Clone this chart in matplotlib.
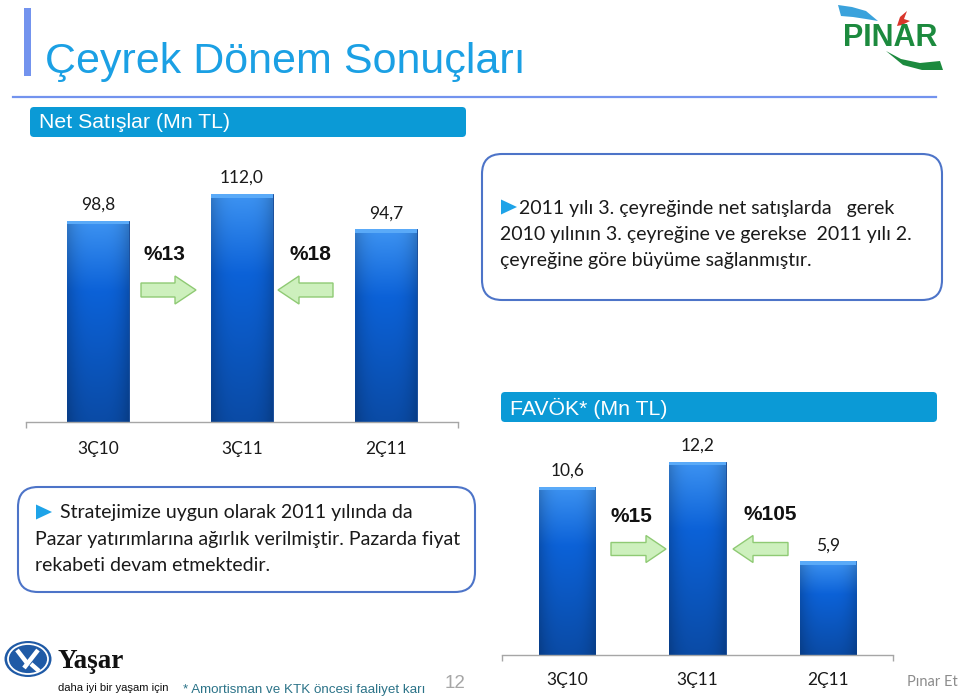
import matplotlib
matplotlib.use("Agg")
import matplotlib.pyplot as plt
import numpy as np
from matplotlib.patches import FancyBboxPatch, Polygon, Rectangle, Ellipse
from matplotlib.colors import to_rgb

# ---- data -------------------------------------------------------------
quarters = ["3Ç10", "3Ç11", "2Ç11"]
net_sales = [98.8, 112.0, 94.7]
favok = [10.6, 12.2, 5.9]
sales_growth = ["%13", "%18"]
favok_growth = ["%15", "%105"]
value_fmt = lambda v: f"{v:.1f}".replace(".", ",")

title = "Çeyrek Dönem Sonuçları"
sales_header = "Net Satışlar (Mn TL)"
favok_header = "FAVÖK* (Mn TL)"
note_sales = ["2011 yılı 3. çeyreğinde net satışlarda   gerek",
              "2010 yılının 3. çeyreğine ve gerekse  2011 yılı 2.",
              "çeyreğine göre büyüme sağlanmıştır."]
note_favok = ["Stratejimize uygun olarak 2011 yılında da",
              "Pazar yatırımlarına ağırlık verilmiştir. Pazarda fiyat",
              "rekabeti devam etmektedir."]
footnote = "* Amortisman ve KTK öncesi faaliyet karı"
page_no = "12"

W, H = 960, 700
BODY = ["Lato", "DejaVu Sans"]
ARIAL = ["Liberation Sans", "DejaVu Sans"]
HEAD_BLUE = "#0b9ad6"
BOX_EDGE = "#4d74c8"

fig = plt.figure(figsize=(W / 100, H / 100), dpi=100)
fig.patch.set_facecolor("white")

# full-page canvas in pixel units for the slide decorations
cv = fig.add_axes([0, 0, 1, 1])
cv.set_xlim(0, W)
cv.set_ylim(H, 0)
cv.axis("off")

# title + rules
cv.add_patch(Rectangle((24, 8), 7, 68, color="#7393ee", lw=0))
cv.plot([13, 936], [97, 97], color="#7393ee", lw=1.6)
cv.text(45, 73, title, fontsize=31, color="#1ba0e4", family=ARIAL, va="baseline")

# section headers
for (x0, y0, w, h, txt) in [(30, 107, 436, 30, sales_header),
                            (501, 392, 436, 30, favok_header)]:
    cv.add_patch(FancyBboxPatch((x0, y0), w, h, boxstyle="round,pad=0,rounding_size=4",
                                fc=HEAD_BLUE, ec="none"))
    cv.text(x0 + 9, y0 + h / 2 + 1, txt, fontsize=15.3, color="white", family=ARIAL,
            va="center")

# comment boxes
def note_box(x0, y0, w, h, lines, bullet_xy, first_x, other_x, baselines):
    cv.add_patch(FancyBboxPatch((x0, y0), w, h, boxstyle="round,pad=0,rounding_size=20",
                                fc="white", ec=BOX_EDGE, lw=1.5))
    cv.add_patch(Polygon([(bullet_xy[0], bullet_xy[1] - 7.5), (bullet_xy[0] + 16, bullet_xy[1]),
                          (bullet_xy[0], bullet_xy[1] + 7.5)], closed=True,
                         fc="#1ea3e8", ec="none"))
    for i, (ln, yb) in enumerate(zip(lines, baselines)):
        cv.text(first_x if i == 0 else other_x, yb, ln, fontsize=14, color="#1a1a1a",
                family=BODY, va="baseline")

note_box(482, 154, 460, 146, note_sales, (501, 207), 519, 500, [214, 240, 266])
note_box(18, 487, 457, 105, note_favok, (36, 512), 60, 35, [518, 544.5, 571])

# ---- bar panels -------------------------------------------------------
def bar_colors():
    top = np.array(to_rgb("#3d93f2"))
    mid = np.array(to_rgb("#0c62d8"))
    bot = np.array(to_rgb("#0a4ba6"))
    t = np.linspace(0, 1, 120)[:, None]
    col = np.where(t < 0.35, top + (mid - top) * (t / 0.35),
                   mid + (bot - mid) * ((t - 0.35) / 0.65))
    img = np.repeat(col[:, None, :], 30, axis=1)
    xs = np.linspace(-1, 1, 30)
    shade = 1 - 0.18 * np.abs(xs) ** 3
    return np.clip(img * shade[None, :, None], 0, 1)

GRAD = bar_colors()

def bar_panel(left, right, base, top, px_unit, values, pad_pt):
    ax = fig.add_axes([left / W, (H - base) / H, (right - left) / W, (base - top) / H])
    ax.patch.set_alpha(0)
    n = len(values)
    ymax = (base - top) / px_unit
    bars = ax.bar(range(n), values, width=0.43, color="#0c5fd2", ec="#0a3f8e", lw=0.6,
                  zorder=2)
    for b in bars:
        x0, w, h = b.get_x(), b.get_width(), b.get_height()
        im = ax.imshow(GRAD, extent=(x0, x0 + w, 0, h), aspect="auto", zorder=2.5,
                       interpolation="bilinear")
        im.set_clip_path(b)
        ax.add_patch(Rectangle((x0, h - 3.5 / px_unit), w, 3.5 / px_unit,
                               color="#5aaaf8", lw=0, zorder=3))
        ax.annotate(value_fmt(h), (x0 + w / 2, h), xytext=(0, 11.5),
                    textcoords="offset points", ha="center", va="center",
                    fontsize=12.5, family=BODY, color="#1a1a1a")
    ax.set_xlim(-0.5, n - 0.5)
    ax.set_ylim(0, ymax)
    for s in ("left", "right", "top"):
        ax.spines[s].set_visible(False)
    ax.spines["bottom"].set_color("#a6a6a6")
    ax.spines["bottom"].set_linewidth(1.0)
    ax.set_yticks([])
    ax.set_xticks(range(n))
    ax.set_xticklabels(quarters, fontsize=12.5, family=BODY, color="#1a1a1a")
    ax.tick_params(axis="x", which="major", length=0, pad=pad_pt)
    ax.set_xticks([-0.5, n - 0.5], minor=True)
    ax.tick_params(axis="x", which="minor", length=4, color="#a6a6a6", width=1.0)
    return ax

bar_panel(26, 458, 422, 160, 2.035, net_sales, 14)
bar_panel(502, 893, 655, 400, 15.85, favok, 12)

# growth arrows + percentages
def arrow(x_tail, x_tip, cy, shaft=14, head=28, head_len=21):
    d = 1 if x_tip > x_tail else -1
    xb = x_tip - d * head_len
    pts = [(x_tail, cy - shaft / 2), (xb, cy - shaft / 2), (xb, cy - head / 2),
           (x_tip, cy), (xb, cy + head / 2), (xb, cy + shaft / 2), (x_tail, cy + shaft / 2)]
    cv.add_patch(Polygon(pts, closed=True, fc="#cdf0bd", ec="#8fca74", lw=1.0, zorder=5))

arrow(141, 196, 290)
arrow(333, 278, 290)
arrow(611, 666, 549, shaft=13, head=27, head_len=20)
arrow(788, 733, 549, shaft=13, head=27, head_len=20)

for (x, y), txt in zip([(164, 255), (310, 255)], sales_growth):
    cv.text(x, y, txt, fontsize=15, weight="bold", family=ARIAL, ha="center",
            va="center", color="#111111")
for (x, y), txt in zip([(631, 516), (770, 514)], favok_growth):
    cv.text(x, y, txt, fontsize=15, weight="bold", family=ARIAL, ha="center",
            va="center", color="#111111")

# ---- footer -------------------------------------------------------------
cv.add_patch(Ellipse((28, 659), 47, 36, fc="#1f5aa6", ec="none"))
cv.add_patch(Ellipse((28, 659), 40, 30, fc="none", ec="white", lw=1.3))
cv.plot([17, 27], [650, 663], color="white", lw=3.2, solid_capstyle="butt")
cv.plot([24, 38], [668, 650], color="white", lw=3.2, solid_capstyle="butt")
cv.plot([31, 39], [664, 671], color="white", lw=3.2, solid_capstyle="butt")
cv.text(58, 668, "Yaşar", fontsize=19.5, weight="bold",
        family=["Liberation Serif", "DejaVu Serif"], va="baseline", color="#111111")
cv.text(58, 688, "daha iyi bir yaşam için", fontsize=8.1, family=ARIAL, va="center",
        color="#111111")
cv.text(183, 690, footnote, fontsize=9.6, family=ARIAL, va="center", color="#2b7388")
cv.text(445, 683, page_no, fontsize=13.5, family=ARIAL, va="center", color="#a6a6a6")
cv.text(958, 682, "Pınar Et", fontsize=10.5, family=BODY, ha="right", va="center",
        color="#8c8c8c")

# PINAR logo (simplified)
cv.add_patch(Polygon([(838, 5), (852, 7), (866, 11), (878, 21), (866, 19), (853, 17),
                      (841, 16)], closed=True, fc="#3aa2dc", ec="none"))
cv.add_patch(Polygon([(897, 26), (900, 17), (907, 11), (904, 19), (910, 21), (902, 25)],
                     closed=True, fc="#d9362b", ec="none"))
cv.text(890, 38, "PINAR", fontsize=22, weight="bold", family=ARIAL, ha="center",
        va="center", color="#1c8a3e")
cv.add_patch(Polygon([(886, 51), (901, 59), (920, 63), (940, 61), (943, 70), (922, 70),
                      (903, 65)], closed=True, fc="#1c8a3e", ec="none"))

fig.savefig("out.png", dpi=100, facecolor="white")
